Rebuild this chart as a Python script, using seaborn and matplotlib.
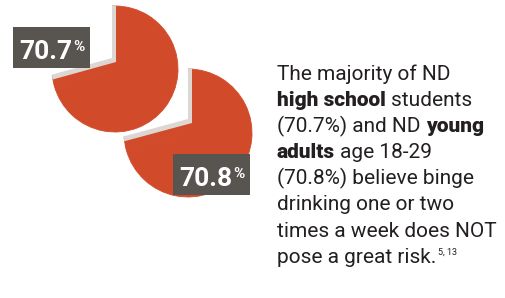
import matplotlib
matplotlib.use("Agg")
import matplotlib.pyplot as plt
import matplotlib.patches as mpatches
import seaborn as sns

# share of each group that sees no great risk in binge drinking 1-2x a week
groups = ["high school students", "young adults 18-29"]
pct_no_risk = [70.7, 70.8]
pct_labels = ["70.7", "70.8"]

# body copy, one list per printed line: (text, style)
body_lines = [
    [("The majority of ND", "n")],
    [("high school", "b"), ("students", "n")],
    [("(70.7%) and ND", "n"), ("young", "b")],
    [("adults", "b"), ("age 18-29", "n")],
    [("(70.8%) believe binge", "n")],
    [("drinking one or two", "n")],
    [("times a week does NOT", "n")],
    [("pose a great risk.", "n"), ("5, 13", "sup")],
]

sns.set_theme(style="white")
plt.rcParams["font.family"] = ["Roboto", "DejaVu Sans"]

RED = "#d14b2b"
SHADOW = "#dcd7d2"
BOX = "#58544f"
INK = "#231f20"

W, H = 506, 298
fig = plt.figure(figsize=(W / 100, H / 100), dpi=100)
ax = fig.add_axes([0, 0, 1, 1])
ax.set_xlim(0, W)
ax.set_ylim(0, H)
renderer = fig.canvas.get_renderer()

# layout in pixel units (y up): index 0 = high school (top), 1 = young adults
layout = [
    dict(center=(115, 229), apex=(116, 236), radius=63, box=(13, 230, 77, 41)),
    dict(center=(188, 165), apex=(192, 175), radius=64, box=(173, 103, 77, 41)),
]
order = [1, 0]  # bottom pie first so the top one sits over its cut


def draw_pie(share, center, apex, radius):
    rest = 100 - share
    kw = dict(startangle=90, counterclock=False, frame=True)
    ax.pie([share, rest], colors=[RED, RED], radius=radius, center=center,
           wedgeprops=dict(edgecolor=RED, linewidth=0.6), **kw)
    # the missing slice: grey shadow, then a white cut nudged up-left
    shade, _ = ax.pie([share, rest], colors=["none", SHADOW], radius=radius * 1.5,
                      center=apex, wedgeprops=dict(linewidth=0), **kw)
    cut, _ = ax.pie([share, rest], colors=["none", "white"], radius=radius * 1.5,
                    center=(apex[0] - 4, apex[1] + 4), wedgeprops=dict(linewidth=0), **kw)
    for wedges, pad in ((shade, 0.3), (cut, 2.0)):
        clip = mpatches.Circle(center, radius + pad, transform=ax.transData)
        for w in wedges:
            w.set_clip_path(clip)
            w.set_clip_on(True)


def extent(t):
    return t.get_window_extent(renderer)


for i in order:
    lay = layout[i]
    draw_pie(pct_no_risk[i], lay["center"], lay["apex"], lay["radius"])

for i in order:
    lay = layout[i]
    bx, by, bw, bh = lay["box"]
    ax.add_patch(mpatches.Rectangle((bx, by), bw, bh, facecolor=BOX,
                                    edgecolor="none", zorder=5))
    base = by + 9
    num = ax.text(bx, base, pct_labels[i], color="white", fontsize=19,
                  fontweight="bold", va="baseline", ha="left", zorder=6)
    pct = ax.text(bx, base + 8, "%", color="white", fontsize=11,
                  fontweight="bold", va="baseline", ha="left", zorder=6)
    wn, wp = extent(num).width, extent(pct).width
    start = bx + (bw - (wn + 1 + wp)) / 2
    num.set_x(start)
    pct.set_x(start + wn + 1)

# body copy
x0, y0, step = 277, H - 80, 26.1
body_size = 15
probe_a = ax.text(0, -100, "nn", fontsize=body_size)
probe_b = ax.text(0, -100, "n n", fontsize=body_size)
space = extent(probe_b).x1 - extent(probe_a).x1
probe_a.remove()
probe_b.remove()

for k, line in enumerate(body_lines):
    x = x0
    y = y0 - k * step
    for j, (txt, style) in enumerate(line):
        if style == "sup":
            t = ax.text(x + 2, y + 8, txt, fontsize=6.5, color=INK, va="baseline", ha="left")
        else:
            if j > 0:
                x += space
            t = ax.text(x, y, txt, fontsize=body_size, color=INK, va="baseline", ha="left",
                        fontweight="black" if style == "b" else "normal")
        x = extent(t).x1

ax.set_xlim(0, W)
ax.set_ylim(0, H)
ax.set_axis_off()
fig.savefig("out.png", dpi=100, facecolor="white")
